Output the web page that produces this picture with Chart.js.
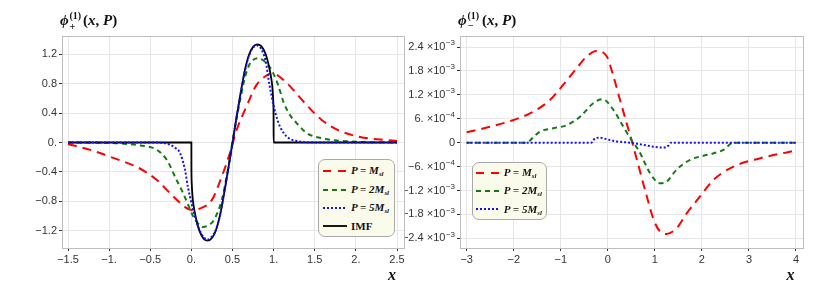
<!DOCTYPE html>
<html>
<head>
<meta charset="utf-8">
<script src="https://cdn.jsdelivr.net/npm/chart.js@4.4.1/dist/chart.umd.min.js"></script>
<style>
body { margin: 0; background: #fff; }
#wrap { position: relative; width: 830px; height: 298px; overflow: hidden; }
canvas { position: absolute; top: 0; }
.t { position: absolute; font-family: 'Liberation Serif', serif; font-weight: bold; white-space: nowrap; color: #111; line-height: 1; }
.big { font-size: 15px; }
.sm { font-size: 10px; }
.xl { font-size: 16px; font-style: italic; }
.leg { position: absolute; background: #fbfbec; border: 1px solid #a8a8a8; border-radius: 7px; box-sizing: border-box; }
.row { position: absolute; left: 0; height: 0; }
.row svg { position: absolute; top: -3px; }
.lt { position: absolute; top: -5.6px; font-family: 'Liberation Serif', serif; font-weight: bold; font-style: italic; font-size: 11px; line-height: 11px; white-space: nowrap; color: #111; }
.lt .s { font-size: 7px; position: relative; top: 2px; }
</style>
</head>
<body>
<div id="wrap">
  <canvas id="plus" width="415" height="298" style="left:0"></canvas>
  <canvas id="minus" width="425" height="298" style="left:405px"></canvas>

  <div class="t big" style="left:60px;top:13.4px"><i>ϕ</i></div>
  <div class="t sm" style="left:69.5px;top:10.6px">(1)</div>
  <div class="t sm" style="left:69.5px;top:21.6px">+</div>
  <div class="t big" style="left:83px;top:13.4px">(<i>x</i>, <i>P</i>)</div>

  <div class="t big" style="left:458px;top:13.4px"><i>ϕ</i></div>
  <div class="t sm" style="left:467.5px;top:10.6px">(1)</div>
  <div class="t sm" style="left:468px;top:20.6px">−</div>
  <div class="t big" style="left:482px;top:13.4px">(<i>x</i>, <i>P</i>)</div>

  <div class="t xl" style="left:388px;top:266.6px">x</div>
  <div class="t xl" style="left:786.5px;top:266.6px">x</div>

  <div class="leg" style="left:318px;top:159.3px;width:77px;height:77.5px">
    <div class="row" style="top:10.7px">
      <svg width="24" height="6" style="left:3.7px"><line x1="0" y1="3" x2="24" y2="3" stroke="#ff0000" stroke-width="1.8" stroke-dasharray="8 7"/></svg>
      <span class="lt" style="left:32px">P = M<span class="s">sl</span></span>
    </div>
    <div class="row" style="top:29.3px">
      <svg width="24" height="6" style="left:3.7px"><line x1="0" y1="3" x2="24" y2="3" stroke="#137a13" stroke-width="1.8" stroke-dasharray="5 4"/></svg>
      <span class="lt" style="left:32px">P = 2M<span class="s">sl</span></span>
    </div>
    <div class="row" style="top:47.6px">
      <svg width="24" height="6" style="left:3.7px"><line x1="0" y1="3" x2="24" y2="3" stroke="#1010ff" stroke-width="1.8" stroke-dasharray="2 2"/></svg>
      <span class="lt" style="left:32px">P = 5M<span class="s">sl</span></span>
    </div>
    <div class="row" style="top:65.9px">
      <svg width="24" height="6" style="left:3.7px"><line x1="0" y1="3" x2="24" y2="3" stroke="#000" stroke-width="1.8"/></svg>
      <span class="lt" style="left:32px;font-style:normal">IMF</span>
    </div>
  </div>

  <div class="leg" style="left:471.5px;top:161.7px;width:75.5px;height:58.5px">
    <div class="row" style="top:10px">
      <svg width="24" height="6" style="left:3.3px"><line x1="0" y1="3" x2="24" y2="3" stroke="#ff0000" stroke-width="1.8" stroke-dasharray="8 7"/></svg>
      <span class="lt" style="left:31.3px">P = M<span class="s">sl</span></span>
    </div>
    <div class="row" style="top:28.3px">
      <svg width="24" height="6" style="left:3.3px"><line x1="0" y1="3" x2="24" y2="3" stroke="#137a13" stroke-width="1.8" stroke-dasharray="5 4"/></svg>
      <span class="lt" style="left:31.3px">P = 2M<span class="s">sl</span></span>
    </div>
    <div class="row" style="top:46.6px">
      <svg width="24" height="6" style="left:3.3px"><line x1="0" y1="3" x2="24" y2="3" stroke="#1010ff" stroke-width="1.8" stroke-dasharray="2 2"/></svg>
      <span class="lt" style="left:31.3px">P = 5M<span class="s">sl</span></span>
    </div>
  </div>
</div>

<script>
// ---- left panel: phi_+^(1)(x, P) ----
var plusX_M = [-1.5, -1.2, -0.95, -0.65, -0.42, -0.26, -0.12, -0.03, 0.03, 0.1, 0.25, 0.37, 0.47, 0.55, 0.67, 0.79, 0.9, 0.98, 1.04, 1.12, 1.22, 1.4, 1.58, 1.8, 2.05, 2.33, 2.5];
var plusY_M = [-0.02, -0.11, -0.21, -0.34, -0.51, -0.69, -0.84, -0.91, -0.92, -0.9, -0.78, -0.46, -0.14, 0.17, 0.49, 0.78, 0.9, 0.94, 0.92, 0.85, 0.74, 0.51, 0.31, 0.16, 0.075, 0.037, 0.02];

var plusX_2M = [-1.5, -1.0, -0.79, -0.62, -0.42, -0.3, -0.18, -0.1, -0.02, 0.02, 0.08, 0.14, 0.2, 0.27, 0.37, 0.45, 0.5, 0.55, 0.6, 0.65, 0.71, 0.76, 0.81, 0.87, 0.95, 1.0, 1.055, 1.12, 1.2, 1.3, 1.4, 1.57, 1.77, 2.0, 2.5];
var plusY_2M = [0, -0.005, -0.02, -0.04, -0.1, -0.235, -0.51, -0.69, -0.9, -1.0, -1.1, -1.15, -1.13, -1.06, -0.78, -0.33, 0.0, 0.33, 0.62, 0.88, 1.07, 1.13, 1.145, 1.12, 1.03, 0.93, 0.78, 0.55, 0.37, 0.24, 0.13, 0.06, 0.027, 0.01, 0.0];

var plusX_5M = [-1.5, -0.4, -0.26, -0.2, -0.14, -0.08, -0.04, 0.0, 0.03, 0.06, 0.1, 0.15, 0.2, 0.25, 0.3, 0.35, 0.4, 0.45, 0.5, 0.55, 0.6, 0.65, 0.7, 0.75, 0.8, 0.85, 0.9, 0.95, 1.0, 1.04, 1.08, 1.16, 1.28, 1.5, 2.5];
var plusY_5M = [0, -0.002, -0.03, -0.07, -0.14, -0.36, -0.62, -0.82, -0.95, -1.07, -1.19, -1.29, -1.32, -1.28, -1.18, -0.98, -0.68, -0.35, 0.0, 0.35, 0.67, 0.97, 1.18, 1.29, 1.32, 1.27, 1.12, 0.78, 0.5, 0.33, 0.21, 0.08, 0.02, 0.0, 0];

var plusX_IMF = [-1.5, 0, 0.0004, 0.004, 0.015, 0.03, 0.05, 0.075, 0.1, 0.15, 0.2, 0.25, 0.3, 0.35, 0.4, 0.45, 0.5, 0.55, 0.6, 0.65, 0.7, 0.75, 0.8, 0.85, 0.9, 0.925, 0.95, 0.97, 0.985, 0.996, 0.9996, 1, 2.5];
var plusY_IMF = [0, 0, -0.3, -0.55, -0.75, -0.88, -1.0, -1.12, -1.21, -1.31, -1.335, -1.3, -1.19, -0.98, -0.68, -0.35, 0, 0.35, 0.68, 0.98, 1.19, 1.3, 1.335, 1.31, 1.21, 1.12, 1.0, 0.88, 0.75, 0.55, 0.3, 0, 0];

var plusXTicks = [-1.5, -1, -0.5, 0, 0.5, 1, 1.5, 2, 2.5];
var plusXLabels = ['−1.5', '−1.', '−0.5', '0.', '0.5', '1.', '1.5', '2.', '2.5'];
var plusYTicks = [1.2, 0.8, 0.4, 0, -0.4, -0.8, -1.2];
var plusYLabels = ['1.2', '0.8', '0.4', '0.', '−0.4', '−0.8', '−1.2'];

// ---- right panel: phi_-^(1)(x, P), values in units of 10^-3 ----
var minusX_M = [-3, -2.5, -2.0, -1.58, -1.23, -0.95, -0.66, -0.45, -0.24, -0.02, 0.12, 0.26, 0.4, 0.52, 0.68, 0.83, 0.97, 1.11, 1.25, 1.46, 1.68, 1.96, 2.24, 2.67, 3.24, 3.87, 4];
var minusY_M = [0.26, 0.4, 0.57, 0.78, 1.07, 1.45, 1.87, 2.16, 2.3, 2.16, 1.66, 1.07, 0.49, 0, -0.7, -1.35, -1.92, -2.23, -2.29, -2.15, -1.77, -1.35, -0.94, -0.6, -0.39, -0.226, -0.19];

var minusX_2M = [-3, -1.72, -1.6, -1.44, -1.16, -0.87, -0.59, -0.31, -0.11, 0.12, 0.33, 0.54, 0.65, 0.9, 1.11, 1.25, 1.46, 1.75, 2.03, 2.24, 2.46, 2.67, 4];
var minusY_2M = [0, 0, 0.12, 0.28, 0.36, 0.44, 0.65, 0.99, 1.09, 0.82, 0.4, 0, -0.18, -0.77, -1.02, -0.98, -0.68, -0.43, -0.33, -0.27, -0.18, 0, 0];

var minusX_5M = [-3, -0.35, -0.27, -0.17, -0.02, 0.19, 0.47, 0.68, 0.97, 1.18, 1.28, 1.34, 4];
var minusY_5M = [0, 0, 0.11, 0.125, 0.085, 0.03, 0, -0.04, -0.1, -0.125, -0.08, 0, 0];

var minusXTicks = [-3, -2, -1, 0, 1, 2, 3, 4];
var minusXLabels = ['−3', '−2', '−1', '0', '1', '2', '3', '4'];
var minusYTicks = [2.4, 1.8, 1.2, 0.6, 0, -0.6, -1.2, -1.8, -2.4];
// tick label = mantissa ×10^exponent
var minusYMant = ['2.4', '1.8', '1.2', '6.', '0', '−6.', '−1.2', '−1.8', '−2.4'];
var minusYExp = ['−3', '−3', '−3', '−4', '', '−4', '−3', '−3', '−3'];

var RED = '#ff0000', GREEN = '#137a13', BLUE = '#1010ff', BLACK = '#000000';

// gray frame round the plot area
var frame = {
    id: 'frame',
    beforeDatasetsDraw: function(chart) {
        var a = chart.chartArea, c = chart.ctx;
        c.save();
        c.strokeStyle = '#bdbdbd';
        c.lineWidth = 1;
        c.strokeRect(Math.round(a.left) + 0.5, Math.round(a.top) + 0.5, Math.round(a.right - a.left), Math.round(a.bottom - a.top));
        c.restore();
    }
};

// y labels with a real raised exponent, placed by the y scale
var sciLabels = {
    id: 'sciLabels',
    afterDraw: function(chart) {
        var s = chart.scales.y, c = chart.ctx;
        var right = s.right - 3 - 2;
        c.save();
        c.fillStyle = '#333';
        c.textBaseline = 'middle';
        c.textAlign = 'right';
        minusYTicks.forEach(function(v, i) {
            var y = s.getPixelForValue(v);
            if (minusYExp[i] === '') {
                c.font = '11px "Liberation Sans"';
                c.fillText(minusYMant[i], right, y);
                return;
            }
            c.font = '8px "Liberation Sans"';
            var ew = c.measureText(minusYExp[i]).width;
            c.fillText(minusYExp[i], right, y - 4);
            c.font = '11px "Liberation Sans"';
            c.fillText(minusYMant[i] + ' ×10', right - ew - 0.5, y);
        });
        c.restore();
    }
};

function axis(range, ticks, labels, fit) {
    return {
        type: 'linear', min: range[0], max: range[1],
        afterBuildTicks: function(s) { s.ticks = ticks.map(function(v) { return { value: v }; }); },
        afterFit: fit,
        grid: { color: '#e6e6e6', lineWidth: 1, drawTicks: true, tickLength: 3, tickColor: '#333' },
        border: { display: false },
        ticks: {
            display: labels !== null,
            autoSkip: false, maxRotation: 0, padding: 2,
            font: { family: 'Liberation Sans', size: 11 }, color: '#333',
            callback: function(v) { return labels ? labels[ticks.indexOf(v)] : ''; }
        }
    };
}

function panel(id, series, xr, yr, xt, xl, yt, yl, yWidth, padRight, extra) {
    return new Chart(document.getElementById(id), {
        type: 'line',
        data: {
            datasets: series.map(function(s) {
                return {
                    label: s.label,
                    data: s.x.map(function(v, i) { return { x: v, y: s.y[i] }; }),
                    borderColor: s.color, borderWidth: s.width, borderDash: s.dash,
                    pointRadius: 0, fill: false, cubicInterpolationMode: 'monotone', order: s.order
                };
            })
        },
        options: {
            responsive: false, animation: false, events: [],
            layout: { padding: { left: 0, right: padRight, top: 36, bottom: 30 } },
            plugins: { legend: { display: false }, tooltip: { enabled: false } },
            scales: {
                x: axis(xr, xt, xl, function(s) { s.height = 20; }),
                y: axis(yr, yt, yl, function(s) { s.width = yWidth; })
            }
        },
        plugins: [frame].concat(extra)
    });
}

panel('plus', [
    { label: 'P = Msl', x: plusX_M, y: plusY_M, color: RED, width: 2, dash: [9, 6], order: 3 },
    { label: 'P = 2Msl', x: plusX_2M, y: plusY_2M, color: GREEN, width: 2, dash: [5, 4], order: 2 },
    { label: 'IMF', x: plusX_IMF, y: plusY_IMF, color: BLACK, width: 1.8, dash: [], order: 1 },
    { label: 'P = 5Msl', x: plusX_5M, y: plusY_5M, color: BLUE, width: 2, dash: [2, 2], order: 0 }
], [-1.573, 2.585], [-1.435, 1.448], plusXTicks, plusXLabels, plusYTicks, plusYLabels, 62, 11, []);

panel('minus', [
    { label: 'P = Msl', x: minusX_M, y: minusY_M, color: RED, width: 2, dash: [9, 6], order: 2 },
    { label: 'P = 2Msl', x: minusX_2M, y: minusY_2M, color: GREEN, width: 2, dash: [5, 4], order: 1 },
    { label: 'P = 5Msl', x: minusX_5M, y: minusY_5M, color: BLUE, width: 2, dash: [2, 2], order: 0 }
], [-3.142, 4.149], [-2.643, 2.676], minusXTicks, minusXLabels, minusYTicks, null, 55, 27, [sciLabels]);
</script>
</body>
</html>
